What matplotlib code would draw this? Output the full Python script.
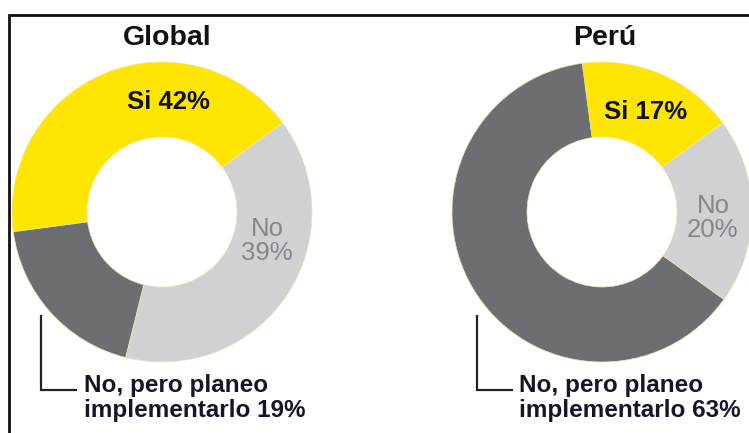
import matplotlib
matplotlib.use("Agg")
import matplotlib.pyplot as plt

# Survey answers per region
regions = ["Global", "Perú"]
categories = ["Si", "No, pero planeo implementarlo", "No"]
global_values = [42, 19, 39]
peru_values = [17, 63, 20]
all_values = [global_values, peru_values]

colors = ["#FFE600", "#6D6E71", "#D0D1D3"]

W, H = 749, 433
fig = plt.figure(figsize=(W / 100, H / 100), dpi=100)
ax = fig.add_axes([0, 0, 1, 1])

# pixel-like coordinates: x from left, y from top converted to bottom-up
def py(y):
    return H - y

centers = [(162, 212), (602, 212)]
radius = 150

for vals, (cx, cy) in zip(all_values, centers):
    wedges, _ = ax.pie(
        vals,
        colors=colors,
        startangle=36.4,
        counterclock=True,
        center=(cx, py(cy)),
        radius=radius,
        wedgeprops=dict(width=radius * 0.5, edgecolor="#EEE6B0", linewidth=0.5),
    )

ax.set_xlim(0, W)
ax.set_ylim(0, H)
ax.set_aspect("equal", adjustable="box")
ax.axis("off")

font = ["Liberation Sans", "DejaVu Sans"]

# titles
title_pos = [(167, 38), (605, 38)]
for name, (tx, ty) in zip(regions, title_pos):
    ax.text(tx, py(ty), name, ha="center", va="center", fontsize=20.5,
            fontweight="bold", family=font, color="#111111")

# "Si" labels
si_pos = [(168, 102), (646, 112)]
for vals, (tx, ty) in zip(all_values, si_pos):
    ax.text(tx, py(ty), f"{categories[0]} {vals[0]}%", ha="center", va="center",
            fontsize=18.5, fontweight="bold", family=font, color="#111111")

# "No" labels
no_pos = [(267, 241), (713, 218)]
for vals, (tx, ty) in zip(all_values, no_pos):
    ax.text(tx, py(ty), f"{categories[2]}\n{vals[2]}%", ha="center", va="center",
            fontsize=18.5, family=font, color="#85858E", linespacing=1.05)

# bracket annotations for the "planeo" share
bracket_x = [41, 477]
text_x = [84, 519]
for vals, bx, tx in zip(all_values, bracket_x, text_x):
    ax.plot([bx, bx, bx + 36], [py(315), py(390), py(390)], color="#222222",
            lw=1.6, solid_joinstyle="miter", solid_capstyle="butt")
    ax.text(tx, py(398), f"No, pero planeo\nimplementarlo {vals[1]}%", ha="left",
            va="center", fontsize=17.5, fontweight="bold", family=font,
            color="#15152A", linespacing=1.15)

# outer frame (top and left edges)
ax.plot([W + 5, 9, 9], [py(15), py(15), -5], color="#111111", lw=2.0,
        solid_joinstyle="miter", clip_on=False)

fig.savefig("out.png", dpi=100)
